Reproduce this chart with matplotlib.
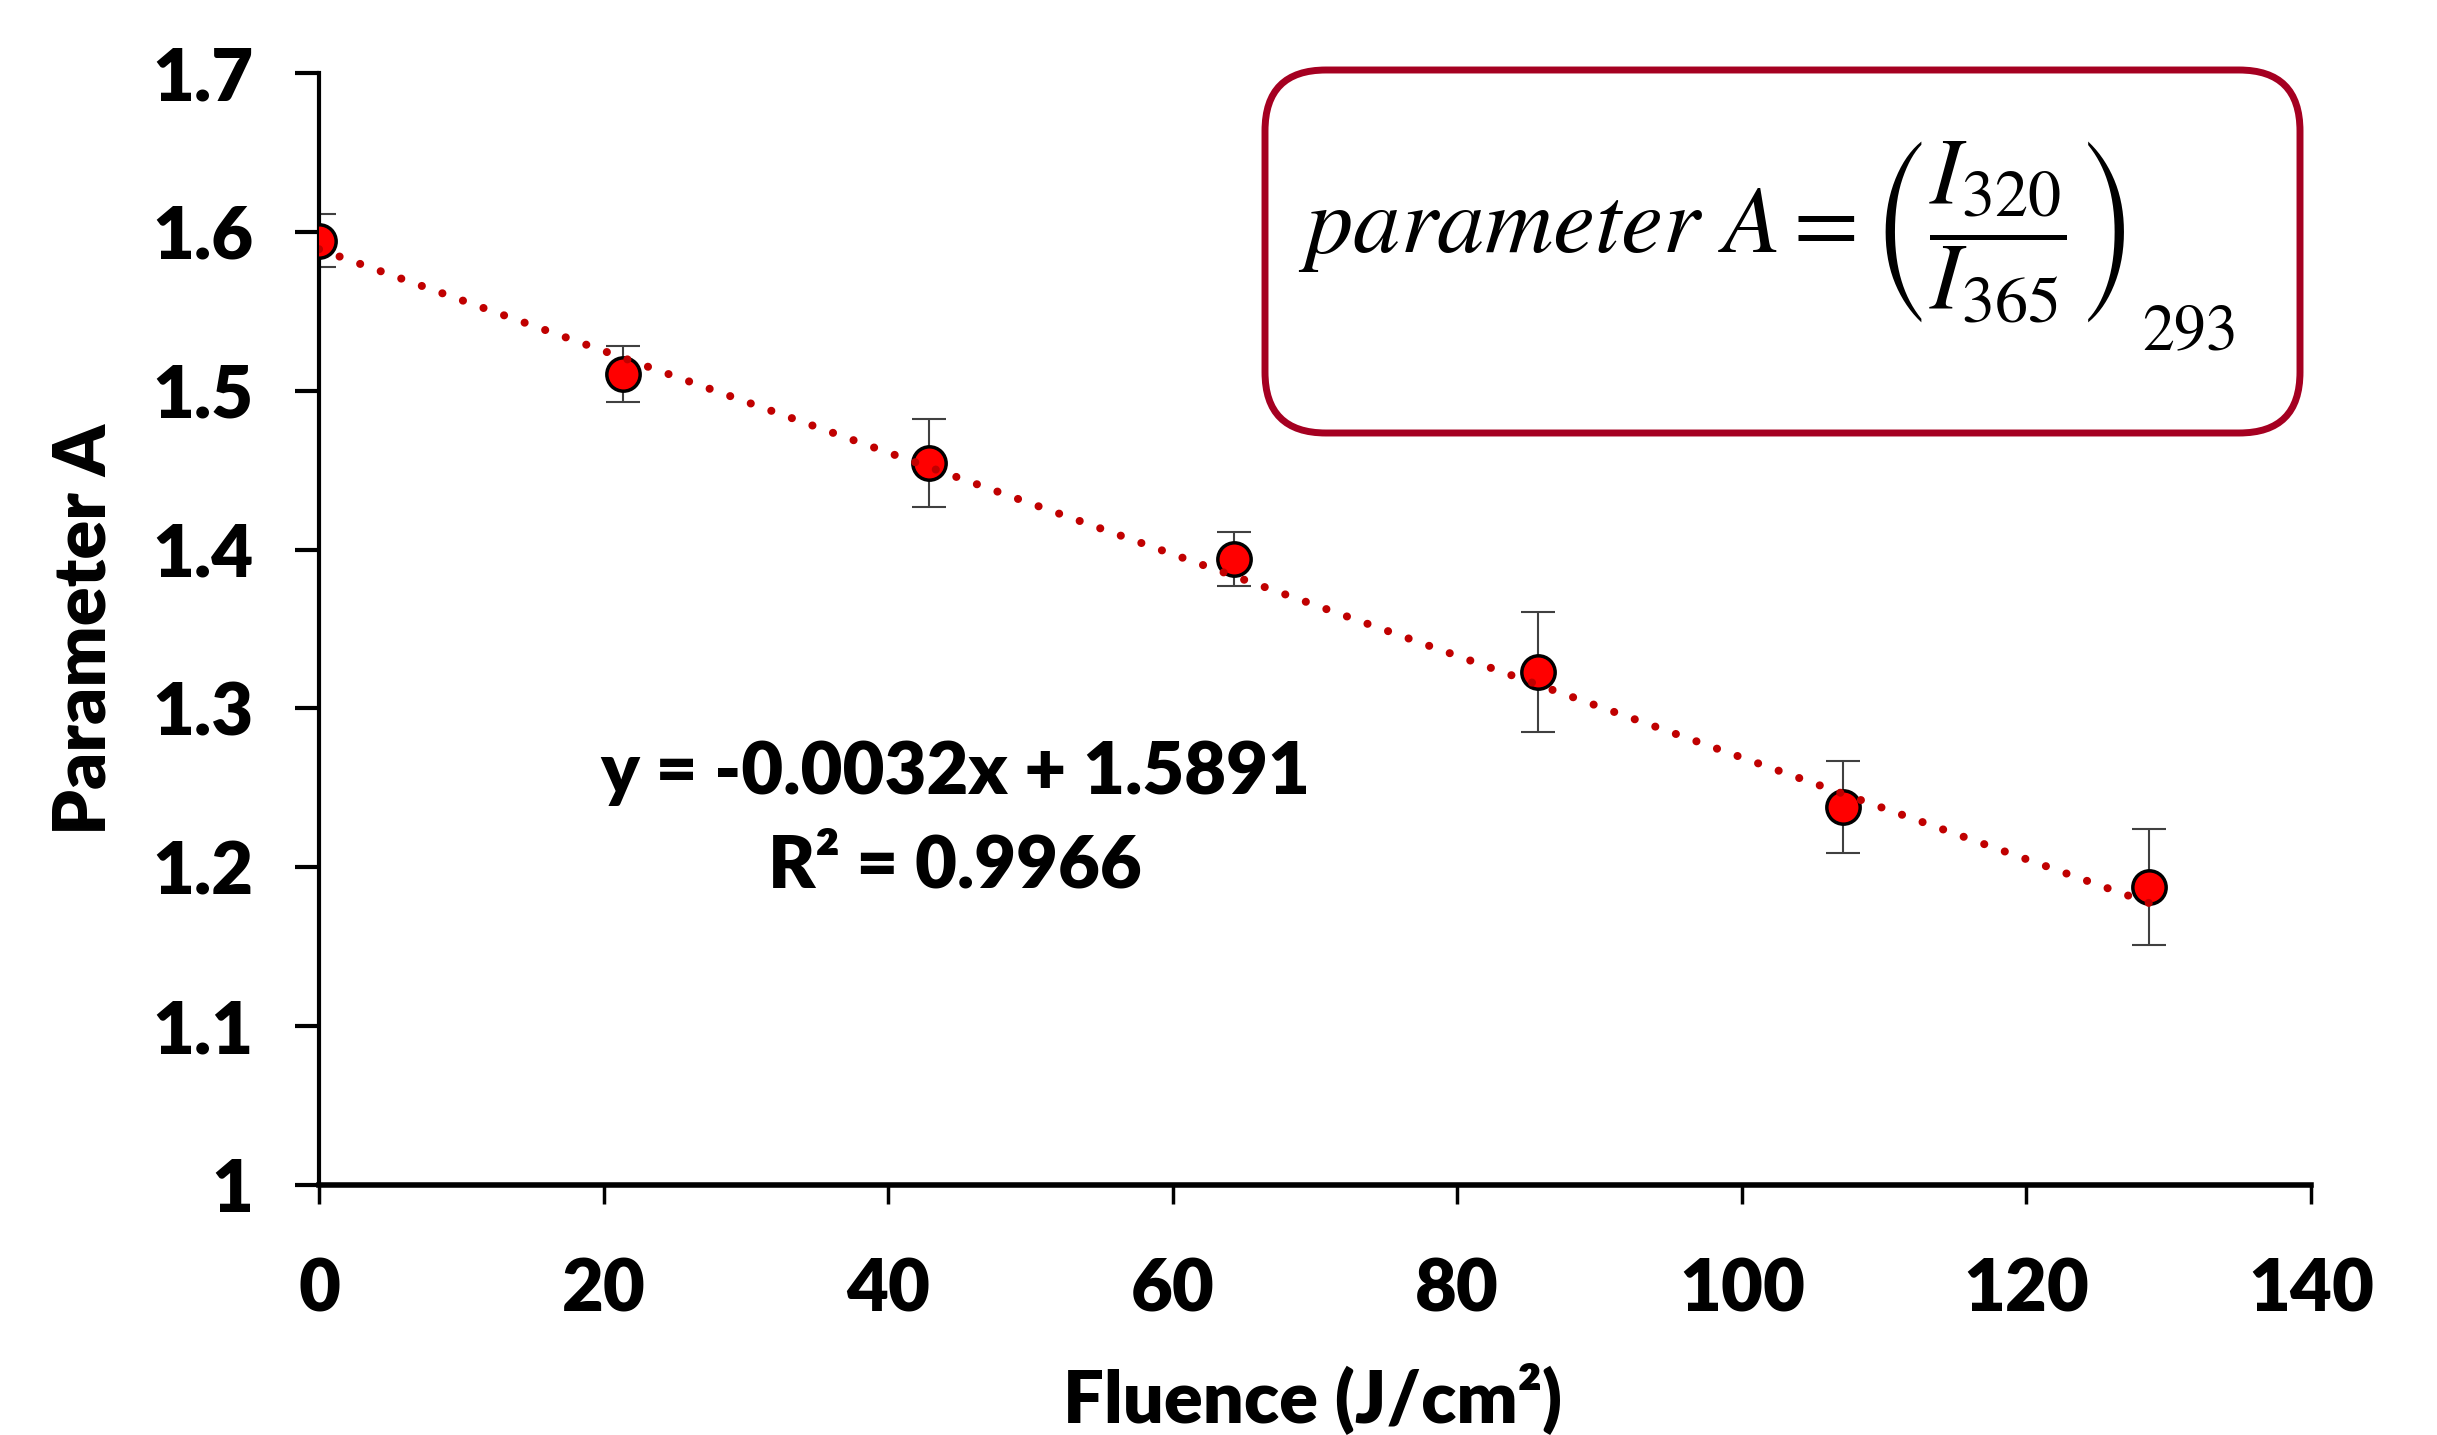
import numpy as np
import matplotlib
matplotlib.use("Agg")
import matplotlib.pyplot as plt
from matplotlib.patches import FancyBboxPatch

# data
fluence = [0.0, 21.4, 42.9, 64.3, 85.7, 107.1, 128.6]
param_a = [1.5945, 1.5105, 1.4545, 1.394, 1.323, 1.238, 1.1875]
param_err = [0.0165, 0.0175, 0.0275, 0.017, 0.038, 0.029, 0.0365]
slope, intercept = -0.0032, 1.5891
r_squared = 0.9966

xticks = [0, 20, 40, 60, 80, 100, 120, 140]
yticks = [1.0, 1.1, 1.2, 1.3, 1.4, 1.5, 1.6, 1.7]
ytick_labels = ["1", "1.1", "1.2", "1.3", "1.4", "1.5", "1.6", "1.7"]

plt.rcParams["font.family"] = ["Lato", "DejaVu Sans"]
plt.rcParams["mathtext.fontset"] = "stix"

fs = 52
wt = "heavy"

fig = plt.figure(figsize=(24.37, 14.35), dpi=100)
ax = fig.add_axes([0.1309, 0.1742, 0.8174, 0.7749])

ax.errorbar(fluence, param_a, yerr=param_err, fmt="none", ecolor="#404040",
            elinewidth=1.5, capsize=12, capthick=1.5, zorder=2)
ax.plot(fluence, param_a, "o", ms=24, mfc="#FF0000", mec="black", mew=2.5,
        zorder=3)

xfit = np.array([fluence[0], fluence[-1]])
ax.plot(xfit, slope * xfit + intercept, color="#C00000", lw=5.8,
        linestyle=(0, (0.01, 2.7)), dash_capstyle="round", zorder=4)

ax.set_xlim(0, 140)
ax.set_ylim(1.0, 1.7)
ax.set_xticks(xticks)
ax.set_xticklabels([str(t) for t in xticks], fontsize=fs, fontweight=wt)
ax.set_yticks(yticks)
ax.set_yticklabels(ytick_labels, fontsize=fs, fontweight=wt)

ax.spines["top"].set_visible(False)
ax.spines["right"].set_visible(False)
ax.spines["left"].set_linewidth(3)
ax.spines["bottom"].set_linewidth(4)
ax.tick_params(axis="y", direction="out", length=17, width=3, pad=30)
ax.tick_params(axis="x", direction="out", length=14, width=2.5, pad=38)

ax.set_xlabel("Fluence (J/cm²)", fontsize=fs, fontweight=wt)
ax.set_ylabel("Parameter A", fontsize=fs, fontweight=wt)
ax.xaxis.set_label_coords(0.499, -0.1924)
ax.xaxis.label.set_va("center")
ax.yaxis.set_label_coords(-0.1175, 0.5)
ax.yaxis.label.set_va("center")

ax.text(44.7, 1.23, f"y = {slope}x + {intercept}\nR² = {r_squared}",
        fontsize=fs, fontweight=wt, ha="center", va="center",
        linespacing=1.5)

# rounded formula box (figure fraction coords)
bx0, by0 = 1265 / 2437, 1 - 433 / 1435
bw, bh = (2300 - 1265) / 2437, (433 - 70) / 1435
box = FancyBboxPatch((bx0, by0), bw, bh, transform=fig.transFigure,
                     boxstyle="round,pad=0,rounding_size=0.025",
                     mutation_aspect=2437 / 1435, fc="white",
                     ec="#A50021", lw=5)
fig.patches.append(box)
fig.text(0.5326, 0.838,
         r"$parameter\ A = \left(\dfrac{I_{320}}{I_{365}}\right)$",
         fontsize=68, fontweight="normal", ha="left", va="center")
fig.text(0.8790, 0.7561, r"$293$", fontsize=46, fontweight="normal",
         ha="left", va="baseline")

fig.savefig("out.png", dpi=100)
